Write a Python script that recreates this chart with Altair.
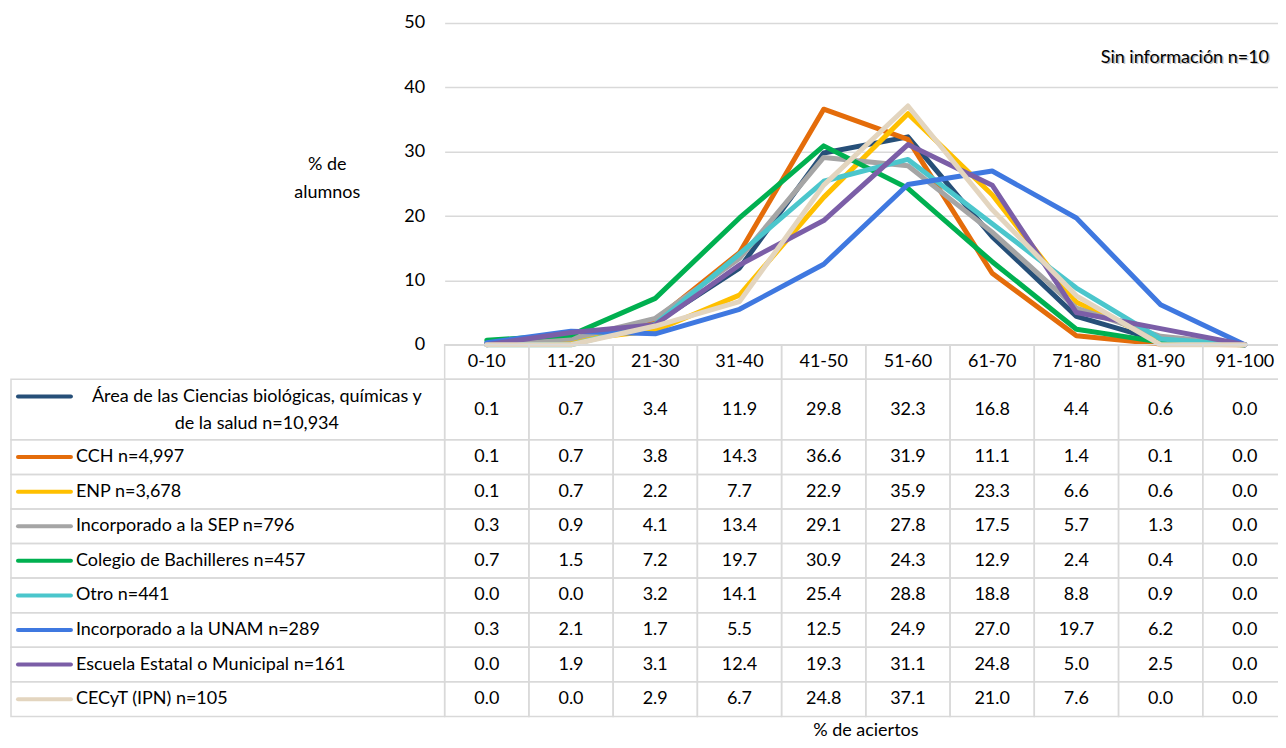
import altair as alt
import pandas as pd

categories = ["0-10", "11-20", "21-30", "31-40", "41-50", "51-60", "61-70", "71-80", "81-90", "91-100"]

series_names = [
    "Área de las Ciencias biológicas, químicas y\nde la salud n=10,934",
    "CCH n=4,997",
    "ENP n=3,678",
    "Incorporado a la SEP n=796",
    "Colegio de Bachilleres n=457",
    "Otro n=441",
    "Incorporado a la UNAM n=289",
    "Escuela Estatal o Municipal n=161",
    "CECyT (IPN) n=105",
]
area = [0.1, 0.7, 3.4, 11.9, 29.8, 32.3, 16.8, 4.4, 0.6, 0.0]
cch = [0.1, 0.7, 3.8, 14.3, 36.6, 31.9, 11.1, 1.4, 0.1, 0.0]
enp = [0.1, 0.7, 2.2, 7.7, 22.9, 35.9, 23.3, 6.6, 0.6, 0.0]
sep = [0.3, 0.9, 4.1, 13.4, 29.1, 27.8, 17.5, 5.7, 1.3, 0.0]
bachilleres = [0.7, 1.5, 7.2, 19.7, 30.9, 24.3, 12.9, 2.4, 0.4, 0.0]
otro = [0.0, 0.0, 3.2, 14.1, 25.4, 28.8, 18.8, 8.8, 0.9, 0.0]
unam = [0.3, 2.1, 1.7, 5.5, 12.5, 24.9, 27.0, 19.7, 6.2, 0.0]
estatal = [0.0, 1.9, 3.1, 12.4, 19.3, 31.1, 24.8, 5.0, 2.5, 0.0]
cecyt = [0.0, 0.0, 2.9, 6.7, 24.8, 37.1, 21.0, 7.6, 0.0, 0.0]
series_values = [area, cch, enp, sep, bachilleres, otro, unam, estatal, cecyt]
colors = ["#264F78", "#E46C0A", "#FFC000", "#A5A5A5", "#00B050",
          "#4BC6CC", "#3F78E0", "#7B5EA7", "#E3D5BF"]
y_ticks = [0, 10, 20, 30, 40, 50]
note_text = "Sin información n=10"
y_title = ["% de", "alumnos"]
x_title = "% de aciertos"

FONT = "Lato"
FS = 18
GRID = "#D9D9D9"
PLOT_W, PLOT_H = 843, 322
LABEL_W = 445
TABLE_H = 372

# ---------- long data for lines ----------
rows = []
for i, (name, vals) in enumerate(zip(series_names, series_values)):
    for c, v in zip(categories, vals):
        rows.append({"series": name, "order": i, "cat": c, "value": v})
df = pd.DataFrame(rows)

color_scale = alt.Scale(domain=series_names, range=colors)

lines = alt.Chart(df).mark_line(strokeWidth=5, strokeJoin="round", strokeCap="round").encode(
    x=alt.X("cat:N", sort=categories,
            scale=alt.Scale(type="point", domain=categories, padding=0.5), axis=None),
    y=alt.Y("value:Q", scale=alt.Scale(domain=[0, 50], nice=False),
            axis=alt.Axis(values=y_ticks, title=y_title, titleAngle=0, titleAlign="center",
                          titleBaseline="middle", titleX=-118, titleY=142, titleLineHeight=28,
                          titleFont=FONT, titleFontSize=FS, titleFontWeight="normal",
                          titleColor="#000000",
                          grid=True, gridColor=GRID, gridWidth=1.5, domain=False, ticks=False,
                          labelPadding=20, labelFont=FONT, labelFontSize=FS, labelColor="#000000")),
    color=alt.Color("series:N", scale=color_scale, legend=None),
    order=alt.Order("order:Q"),
)

note_df = pd.DataFrame({"note": [note_text]})
note_shadow = alt.Chart(note_df).mark_text(align="right", baseline="middle", font=FONT, fontSize=FS,
                                           color="#BFBFBF", dx=1.5, dy=1.5).encode(
    x=alt.value(825), y=alt.value(35), text="note:N")
note = alt.Chart(note_df).mark_text(align="right", baseline="middle", font=FONT, fontSize=FS,
                                    color="#000000").encode(
    x=alt.value(825), y=alt.value(35), text="note:N")

top_chart = alt.layer(lines, note_shadow, note).properties(width=PLOT_W, height=PLOT_H)

# ---------- table geometry ----------
n_lines = [name.count("\n") + 1 for name in series_names]
row_units = [1.0] + [1.0 + 0.75 * (n - 1) for n in n_lines]   # header + data rows
tops = []
acc = 0.0
for u in row_units:
    tops.append(acc)
    acc += u
total_units = acc
y_scale = alt.Scale(domain=[0, total_units], reverse=True, nice=False, zero=False)

cell_rows = []
for c in categories:
    cell_rows.append({"cat": c, "top": tops[0], "bottom": tops[0] + row_units[0],
                      "mid": tops[0] + row_units[0] / 2, "txt": c})
for i, vals in enumerate(series_values):
    r = i + 1
    for c, v in zip(categories, vals):
        cell_rows.append({"cat": c, "top": tops[r], "bottom": tops[r] + row_units[r],
                          "mid": tops[r] + row_units[r] / 2, "txt": f"{v:.1f}"})
cells = pd.DataFrame(cell_rows)

xband = alt.Scale(type="band", domain=categories, paddingInner=0, paddingOuter=0)

cell_rect = alt.Chart(cells).mark_rect(fill="transparent", stroke=GRID, strokeWidth=1.5).encode(
    x=alt.X("cat:N", scale=xband, axis=None),
    y=alt.Y("top:Q", scale=y_scale, axis=None),
    y2="bottom:Q",
)
cell_text = alt.Chart(cells).mark_text(font=FONT, fontSize=FS, color="#000000", baseline="middle").encode(
    x=alt.X("cat:N", scale=xband, axis=None),
    y=alt.Y("mid:Q", scale=y_scale, axis=None),
    text="txt:N",
)
values_chart = alt.layer(cell_rect, cell_text).properties(
    width=PLOT_W, height=TABLE_H,
    title=alt.TitleParams(x_title, orient="bottom", anchor="middle", font=FONT, fontSize=FS,
                          fontWeight="normal", color="#000000", offset=5),
)

lab_rows = []
for i, name in enumerate(series_names):
    r = i + 1
    first_line_mid = tops[r] + 0.5
    lab_rows.append({"series": name, "order": i, "top": tops[r], "bottom": tops[r] + row_units[r],
                     "mid": tops[r] + row_units[r] / 2, "keyy": first_line_mid,
                     "multi": n_lines[i] > 1})
labs = pd.DataFrame(lab_rows)

lab_rect = alt.Chart(labs).mark_rect(fill="transparent", stroke=GRID, strokeWidth=1.5).encode(
    x=alt.value(11), x2=alt.value(LABEL_W),
    y=alt.Y("top:Q", scale=y_scale, axis=None), y2="bottom:Q",
)
lab_key = alt.Chart(labs).mark_rule(strokeWidth=4, strokeCap="round").encode(
    x=alt.value(18), x2=alt.value(71),
    y=alt.Y("keyy:Q", scale=y_scale, axis=None),
    color=alt.Color("series:N", scale=color_scale, legend=None),
)
lab_text_single = alt.Chart(labs).transform_filter("!datum.multi").mark_text(
    align="left", baseline="middle", font=FONT, fontSize=FS, color="#000000").encode(
    x=alt.value(76),
    y=alt.Y("mid:Q", scale=y_scale, axis=None),
    text="series:N",
)
lab_text_multi = alt.Chart(labs).transform_filter("datum.multi").mark_text(
    align="center", baseline="middle", font=FONT, fontSize=FS, color="#000000",
    lineBreak="\n", lineHeight=27).encode(
    x=alt.value(257),
    y=alt.Y("keyy:Q", scale=y_scale, axis=None),
    text="series:N",
)
labels_chart = alt.layer(lab_rect, lab_key, lab_text_single, lab_text_multi).properties(
    width=LABEL_W, height=TABLE_H)

spacer = alt.Chart(pd.DataFrame({"t": [""]})).mark_text().encode(text="t:N").properties(
    width=LABEL_W, height=PLOT_H)

chart = alt.concat(spacer, top_chart, labels_chart, values_chart,
                   columns=2, spacing=0, bounds="flush").properties(
    padding={"left": -8, "top": 5.7, "right": -10, "bottom": 0}
).configure_view(strokeWidth=0).resolve_scale(color="shared")

chart.save("out.html", embed_options={"renderer": "svg", "actions": False})
